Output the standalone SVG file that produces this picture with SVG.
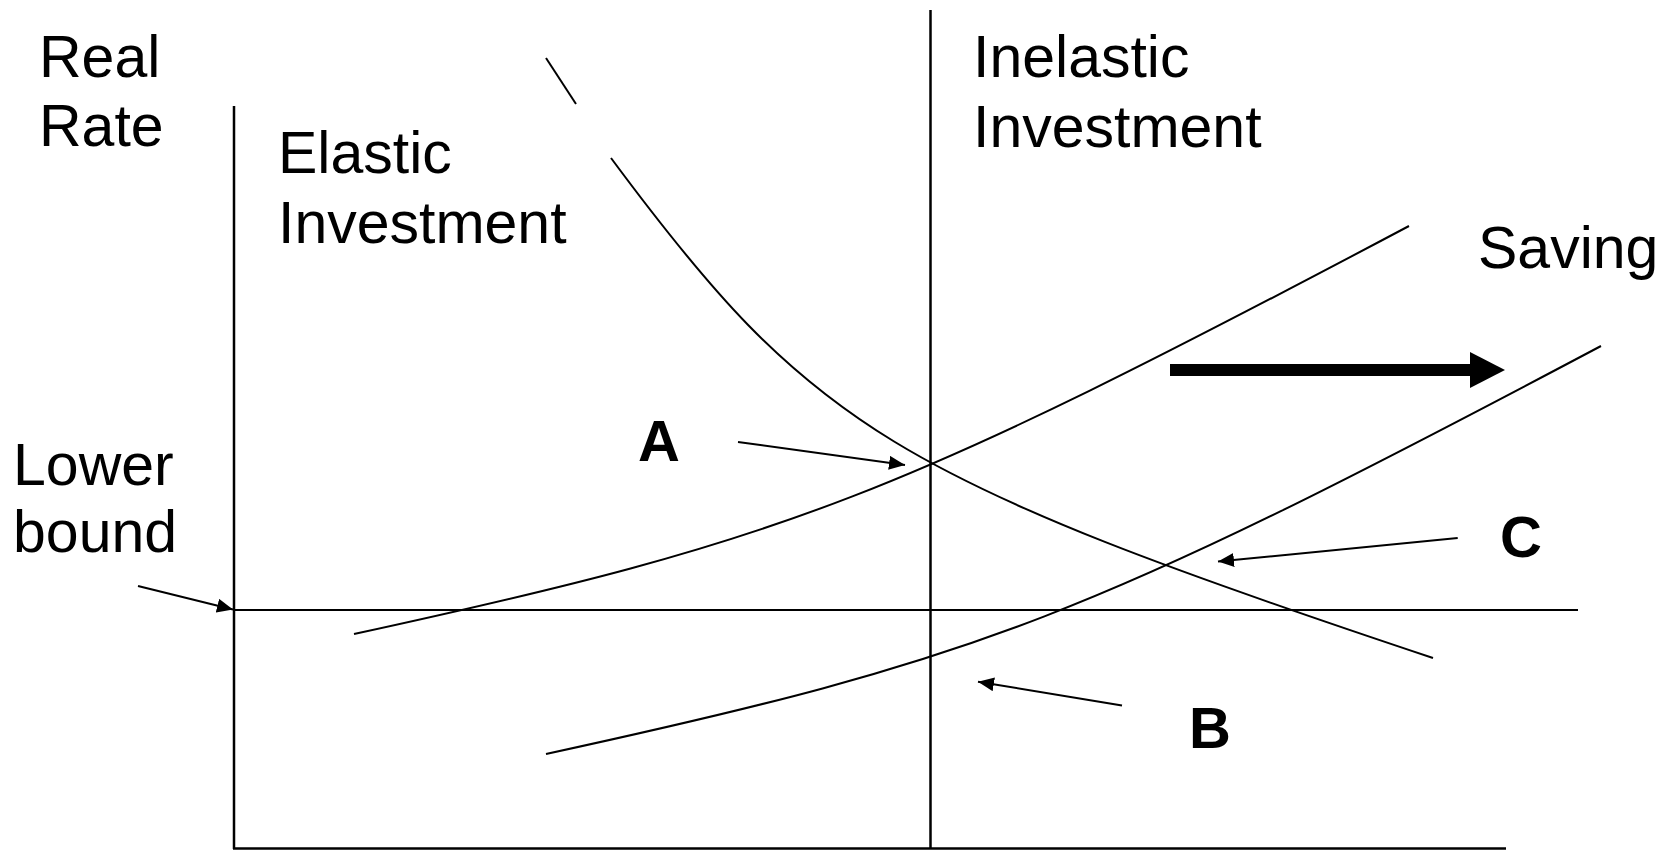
<svg xmlns="http://www.w3.org/2000/svg" width="1661" height="850" viewBox="0 0 1661 850">
  <style>
    .lbl { font-family: "Liberation Sans", Arial, sans-serif; font-size: 59px; fill: #000; }
    .pt { font-family: "Liberation Sans", Arial, sans-serif; font-size: 58px; font-weight: bold; fill: #000; }
    .ax { stroke: #000; stroke-width: 2.5; fill: none; }
    .cv { stroke: #000; stroke-width: 2; fill: none; }
    .conn { stroke: #000; stroke-width: 2; fill: none; marker-end: url(#ah); }
  </style>
  <defs>
    <marker id="ah" markerUnits="userSpaceOnUse" markerWidth="16" markerHeight="14" refX="16" refY="7" orient="auto">
      <path d="M0,0 L16,7 L0,14 Z" fill="#000"/>
    </marker>
  </defs>
  <rect width="1661" height="850" fill="#fff"/>

  <g id="axes">
    <line class="ax" x1="234" y1="106" x2="234" y2="849"/>
    <line class="ax" x1="233" y1="848.5" x2="1506" y2="848.5"/>
    <line class="ax" x1="930.5" y1="10" x2="930.5" y2="849"/>
  </g>

  <g id="lower-bound-line">
    <line class="cv" x1="233" y1="610" x2="1578" y2="610"/>
  </g>

  <g id="investment-curve">
    <line class="cv" x1="546" y1="58" x2="576" y2="104"/>
    <path class="cv" d="M611,158 C811,428 893,478 1433,658"/>
  </g>

  <g id="saving-curve-1">
    <path class="cv" d="M354,634 C790,539 895.5,498 1409,226"/>
  </g>

  <g id="saving-curve-2">
    <path class="cv" d="M546,754 C982,659 1087.5,618 1601,346"/>
  </g>

  <g id="shift-arrow">
    <rect x="1170" y="364" width="302" height="12" fill="#000"/>
    <polygon points="1470,352 1505,370 1470,388" fill="#000"/>
  </g>

  <g id="label-real-rate">
    <text class="lbl" x="39" y="77">Real</text>
    <text class="lbl" x="39" y="146">Rate</text>
  </g>
  <g id="label-elastic">
    <text class="lbl" x="278" y="173">Elastic</text>
    <text class="lbl" x="278" y="243">Investment</text>
  </g>
  <g id="label-inelastic">
    <text class="lbl" x="973" y="77">Inelastic</text>
    <text class="lbl" x="973" y="147">Investment</text>
  </g>
  <g id="label-saving">
    <text class="lbl" x="1478" y="268">Saving</text>
  </g>
  <g id="label-lower-bound">
    <text class="lbl" x="13" y="485">Lower</text>
    <text class="lbl" x="13" y="552">bound</text>
  </g>
  <g id="point-A"><text class="pt" x="638" y="461">A</text></g>
  <g id="point-B"><text class="pt" x="1189" y="748">B</text></g>
  <g id="point-C"><text class="pt" x="1500" y="557">C</text></g>

  <g id="connectors">
    <line class="conn" x1="138" y1="586" x2="233" y2="609.5"/>
    <line class="conn" x1="738" y1="442" x2="905" y2="465"/>
    <line class="conn" x1="1457.7" y1="538" x2="1218" y2="561.5"/>
    <line class="conn" x1="1122" y1="705.5" x2="978" y2="681.7"/>
  </g>
</svg>
